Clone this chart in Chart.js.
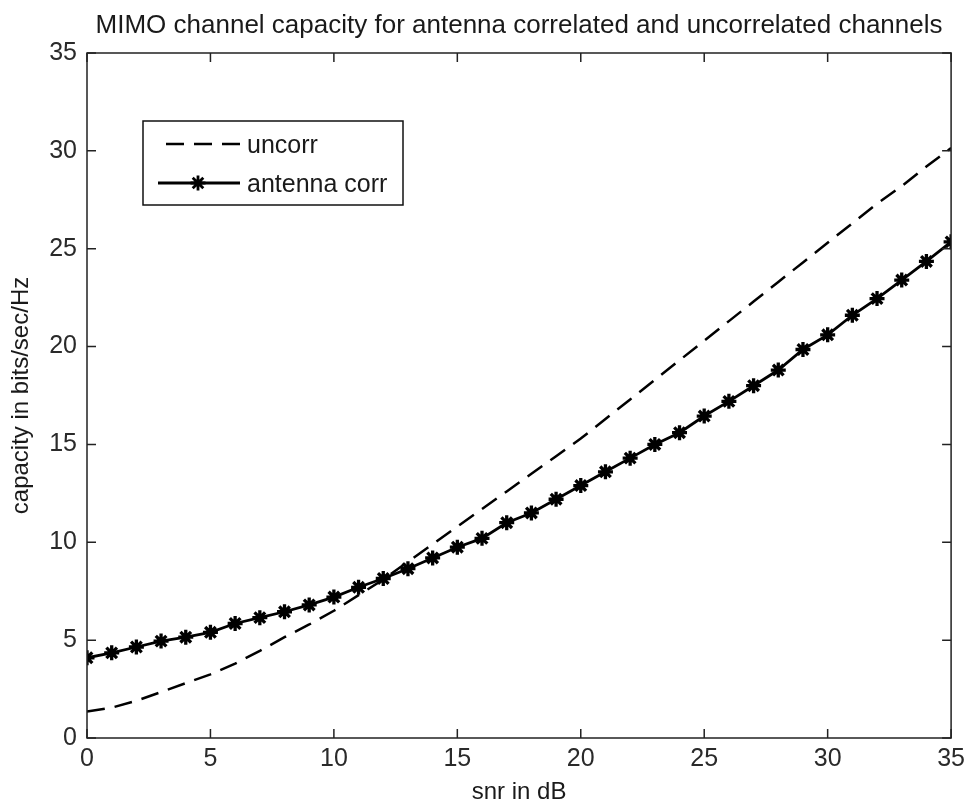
<!DOCTYPE html>
<html>
<head>
<meta charset="utf-8">
<script src="https://cdn.jsdelivr.net/npm/chart.js@4.4.1/dist/chart.umd.min.js"></script>
<style>
  body { margin: 0; background: #fff; }
  #wrap { width: 971px; height: 806px; }
</style>
</head>
<body>
<div id="wrap"><canvas id="capacityChart"></canvas></div>
<script>
const snr = [0,1,2,3,4,5,6,7,8,9,10,11,12,13,14,15,16,17,18,19,20,21,22,23,24,25,26,27,28,29,30,31,32,33,34,35];
const uncorr = [1.35,1.55,1.9,2.35,2.8,3.25,3.8,4.45,5.15,5.8,6.5,7.3,8.1,9.0,9.9,10.8,11.7,12.6,13.5,14.4,15.3,16.3,17.3,18.3,19.3,20.3,21.3,22.3,23.3,24.3,25.3,26.3,27.3,28.2,29.2,30.15];
const antennaCorr = [4.1,4.35,4.65,4.95,5.15,5.4,5.85,6.15,6.45,6.8,7.2,7.7,8.15,8.65,9.2,9.75,10.2,11.0,11.5,12.2,12.9,13.6,14.3,15.0,15.6,16.45,17.2,18.0,18.8,19.85,20.6,21.6,22.45,23.4,24.35,25.35];
const xTicks = [0,5,10,15,20,25,30,35];
const yTicks = [0,5,10,15,20,25,30,35];

const font = "'Liberation Sans', Arial, sans-serif";

function toPoints(ys){
  return snr.map((x, i) => ({x: x, y: ys[i]}));
}

// matlab style box with inward ticks on all four sides
const boxPlugin = {
  id: 'box',
  afterDatasetsDraw(chart){
    const {ctx, chartArea: a, scales: {x, y}} = chart;
    const len = 9;
    ctx.save();
    ctx.strokeStyle = '#222';
    ctx.lineWidth = 1.5;
    ctx.strokeRect(a.left, a.top, a.right - a.left, a.bottom - a.top);
    ctx.beginPath();
    xTicks.forEach(v => {
      const px = x.getPixelForValue(v);
      ctx.moveTo(px, a.bottom); ctx.lineTo(px, a.bottom - len);
      ctx.moveTo(px, a.top); ctx.lineTo(px, a.top + len);
    });
    yTicks.forEach(v => {
      const py = y.getPixelForValue(v);
      ctx.moveTo(a.left, py); ctx.lineTo(a.left + len, py);
      ctx.moveTo(a.right, py); ctx.lineTo(a.right - len, py);
    });
    ctx.stroke();
    ctx.restore();
  }
};

// legend box drawn inside the axes, upper left
const legendPlugin = {
  id: 'insideLegend',
  afterDraw(chart){
    const ctx = chart.ctx;
    const sets = chart.data.datasets;
    const bx = 143, by = 121, bw = 260, bh = 84;
    ctx.save();
    ctx.fillStyle = '#fff';
    ctx.fillRect(bx, by, bw, bh);
    ctx.strokeStyle = '#111';
    ctx.lineWidth = 1.5;
    ctx.strokeRect(bx, by, bw, bh);
    const rows = [144, 183];
    sets.forEach((ds, i) => {
      const yy = rows[i];
      ctx.strokeStyle = ds.borderColor;
      ctx.lineWidth = ds.borderWidth;
      ctx.setLineDash(ds.borderDash || []);
      ctx.beginPath();
      ctx.moveTo(i === 0 ? 166 : 158, yy);
      ctx.lineTo(240, yy);
      ctx.stroke();
      ctx.setLineDash([]);
      if (ds.pointRadius > 0) {
        Chart.helpers.drawPoint(ctx, {pointStyle: ds.pointStyle, radius: ds.pointRadius, borderWidth: ds.pointBorderWidth}, 198, yy);
      }
      ctx.fillStyle = '#1a1a1a';
      ctx.font = '25px ' + font;
      ctx.textBaseline = 'middle';
      ctx.fillText(ds.label, 247, yy + 2);
    });
    ctx.restore();
  }
};

new Chart(document.getElementById('capacityChart'), {
  type: 'line',
  data: {
    datasets: [{
      label: 'uncorr',
      data: toPoints(uncorr),
      borderColor: '#000',
      borderWidth: 2.5,
      borderDash: [18, 10],
      pointRadius: 0,
      tension: 0
    }, {
      label: 'antenna corr',
      data: toPoints(antennaCorr),
      borderColor: '#000',
      backgroundColor: '#000',
      borderWidth: 2.8,
      pointStyle: 'star',
      pointRadius: 7.5,
      pointBorderWidth: 3.3,
      pointBorderColor: '#000',
      tension: 0
    }]
  },
  options: {
    responsive: true,
    maintainAspectRatio: false,
    animation: false,
    layout: {
      padding: {left: 0, right: 16, top: 0, bottom: 0}
    },
    plugins: {
      legend: { display: false },
      tooltip: { enabled: false },
      title: {
        display: true,
        fullSize: false,
        text: 'MIMO channel capacity for antenna correlated and uncorrelated channels',
        color: '#1a1a1a',
        font: { family: font, size: 26, weight: 'normal', lineHeight: 1.2 },
        padding: { top: 10, bottom: 11.8 }
      }
    },
    scales: {
      x: {
        type: 'linear',
        min: 0,
        max: 35,
        afterFit(scale){ scale.height = 68; },
        afterBuildTicks(scale){ scale.ticks = xTicks.map(v => ({value: v})); },
        grid: { display: false, drawTicks: false },
        border: { display: false },
        ticks: { color: '#2a2a2a', padding: 6, maxRotation: 0, font: { family: font, size: 25 } },
        title: {
          display: true,
          text: 'snr in dB',
          color: '#1a1a1a',
          font: { family: font, size: 24, lineHeight: 1.1 },
          padding: { top: 0, bottom: 0 }
        }
      },
      y: {
        type: 'linear',
        min: 0,
        max: 35,
        afterFit(scale){ scale.width = 87; },
        afterBuildTicks(scale){ scale.ticks = yTicks.map(v => ({value: v})); },
        grid: { display: false, drawTicks: false },
        border: { display: false },
        ticks: { color: '#2a2a2a', padding: 10, font: { family: font, size: 25 } },
        title: {
          display: true,
          text: 'capacity in bits/sec/Hz',
          color: '#1a1a1a',
          font: { family: font, size: 24, lineHeight: 1.2 },
          padding: { top: 7, bottom: 0 }
        }
      }
    }
  },
  plugins: [boxPlugin, legendPlugin]
});
</script>
</body>
</html>
